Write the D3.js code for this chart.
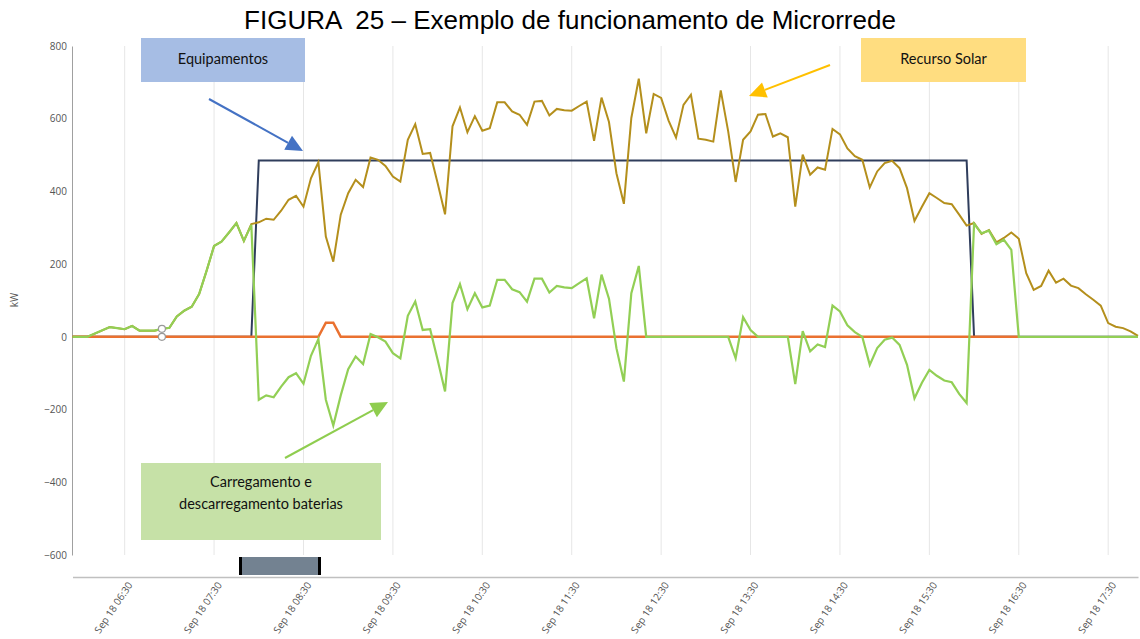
<!DOCTYPE html>
<html><head><meta charset="utf-8">
<script src="https://cdn.jsdelivr.net/npm/d3@7"></script>
<style>body{margin:0;background:#fff;} svg{display:block;}</style>
</head><body>
<svg id="chart" width="1140" height="639"></svg>
<script>
const title = "FIGURA  25 – Exemplo de funcionamento de Microrrede";
const yAxisTitle = "kW";
const startTime = "2019-09-18T05:55:00";
const stepMinutes = 5;

// Recurso Solar (kW)
const solar = [0,0,0,9,18,27,24,21,30,17,17,17,22,25,56,72,83,118,182,250,262,287,313,264,310,
  315,325,322,347,377,388,358,436,480,276,207,336,395,432,412,493,487,470,441,427,542,585,503,506,423,337,579,631,563,607,
  567,574,645,645,620,611,583,647,649,609,627,623,622,635,647,539,658,591,450,366,602,710,560,668,657,595,
  548,638,666,545,542,537,678,565,426,542,565,611,613,551,560,549,358,501,446,466,460,572,557,518,497,487,411,
  455,478,484,464,409,319,358,395,382,368,365,336,306,313,283,294,260,272,287,270,175,129,140,182,149,160,141,134,117,102,86,38,28,24,15,3];

// Carregamento e descarregamento baterias (kW)
const battery = [0,0,0,9,18,27,24,21,30,17,17,17,22,25,56,72,83,118,182,250,262,287,313,264,308,
  -173,-161,-166,-137,-111,-100,-129,-52,-6,-173,-244,-161,-89,-54,-75,8,-1,-13,-45,-59,58,97,19,21,-63,-150,93,145,76,120,
  81,86,157,157,131,123,97,160,160,122,140,136,134,148,161,51,171,105,-31,-123,120,195,0,0,0,0,
  0,0,0,0,0,0,0,0,-59,54,19,0,0,0,0,0,-130,16,-40,-21,-28,86,70,32,13,0,-77,
  -31,-8,-2,-22,-77,-169,-126,-91,-107,-120,-125,-157,-182,311,285,292,255,267,239,0,0,0,0,0,0,0,0,0,0,0,0,0,0,0,0,0];

// Equipamentos (kW)
const equipment = [0,0,0,0,0,0,0,0,0,0,0,0,0,0,0,0,0,0,0,0,0,0,0,0,0,
  485,485,485,485,485,485,485,485,485,485,485,485,485,485,485,485,485,485,485,485,485,485,485,485,485,485,485,485,485,485,
  485,485,485,485,485,485,485,485,485,485,485,485,485,485,485,485,485,485,485,485,485,485,485,485,485,485,
  485,485,485,485,485,485,485,485,485,485,485,485,485,485,485,485,485,485,485,485,485,485,485,485,485,485,485,
  485,485,485,485,485,485,485,485,485,485,485,485,485,0,0,0,0,0,0,0,0,0,0,0,0,0,0,0,0,0,0,0,0,0,0,0];

// Rede (kW)
const grid = [0,0,0,0,0,0,0,0,0,0,0,0,0,0,0,0,0,0,0,0,0,0,0,0,0,
  0,0,0,0,0,0,0,0,0,39,39,0,0,0,0,0,0,0,0,0,0,0,0,0,0,0,0,0,0,0,
  0,0,0,0,0,0,0,0,0,0,0,0,0,0,0,0,0,0,0,0,0,0,0,0,0,0,
  0,0,0,0,0,0,0,0,0,0,0,0,0,0,0,0,0,0,0,0,0,0,0,0,0,0,0,
  0,0,0,0,0,0,0,0,0,0,0,0,0,0,0,0,0,0,0,0];

const markerIndex = 12;
const yTicks = [-600,-400,-200,0,200,400,600,800];
const xTickTimes = ["06:30","07:30","08:30","09:30","10:30","11:30","12:30","13:30","14:30","15:30","16:30","17:30"];
const xTickLabels = ["Sep 18 06:30","Sep 18 07:30","Sep 18 08:30","Sep 18 09:30","Sep 18 10:30","Sep 18 11:30","Sep 18 12:30","Sep 18 13:30","Sep 18 14:30","Sep 18 15:30","Sep 18 16:30","Sep 18 17:30"];
const boxLabels = {equip: ["Equipamentos"], solar: ["Recurso Solar"], batt: ["Carregamento e", "descarregamento baterias"]};

const svg = d3.select("#chart");
const t0 = new Date(startTime);
const timeAt = i => new Date(t0.getTime() + i * stepMinutes * 60000);
const tEnd = timeAt(solar.length - 1);
const tickDate = s => new Date("2019-09-18T" + s + ":00");

const x = d3.scaleTime().domain([t0, tEnd]).range([72.5, 1138]);
const y = d3.scaleLinear().domain([-600, 800]).range([555, 46]);

// title
svg.append("text").attr("x", 570).attr("y", 29).attr("text-anchor", "middle")
  .style("white-space", "pre").attr("xml:space", "preserve")
  .style("font-family", "'Liberation Sans', Arial, sans-serif").style("font-size", "26px").attr("fill", "#000").text(title);

// vertical gridlines
svg.append("g").selectAll("line").data(xTickTimes).join("line")
  .attr("x1", d => x(tickDate(d))).attr("x2", d => x(tickDate(d)))
  .attr("y1", 46).attr("y2", 555).attr("stroke", "#e6e6e6").attr("stroke-width", 1);

// y axis
const yAxis = d3.axisLeft(y).tickValues(yTicks).tickSize(0).tickPadding(5);
const gy = svg.append("g").attr("transform", "translate(72,0)").call(yAxis);
gy.select(".domain").attr("stroke", "#a0a0a0");
gy.selectAll("text").style("font-family", "'Open Sans', sans-serif").style("font-size", "10px").attr("fill", "#555");

svg.append("text").attr("transform", "translate(18,300) rotate(-90)").attr("text-anchor", "middle")
  .style("font-family", "'Open Sans', sans-serif").style("font-size", "10px").attr("fill", "#555").text(yAxisTitle);

// x axis
const xAxis = d3.axisBottom(x).tickValues(xTickTimes.map(tickDate)).tickSize(0)
  .tickFormat((d, i) => xTickLabels[i]);
const gx = svg.append("g").attr("transform", "translate(0,577)").call(xAxis);
gx.select(".domain").attr("stroke", "#c0c0c0").attr("stroke-width", 1.5);
gx.selectAll("text").style("font-family", "'Open Sans', sans-serif").style("font-size", "10px").attr("fill", "#555")
  .attr("text-anchor", "end").attr("dy", "0.35em").attr("y", 0)
  .attr("transform", "translate(5,6) rotate(-56)");

// navigator-like bar
svg.append("rect").attr("x", 240).attr("y", 557).attr("width", 80).attr("height", 18).attr("fill", "#738291");
svg.append("rect").attr("x", 239).attr("y", 557).attr("width", 3).attr("height", 18).attr("fill", "#000");
svg.append("rect").attr("x", 318).attr("y", 557).attr("width", 3).attr("height", 18).attr("fill", "#000");

// lines
const line = d3.line().x((d, i) => x(timeAt(i))).y(d => y(d));
const plot = svg.append("g");
plot.append("path").datum(equipment).attr("d", line).attr("fill", "none").attr("stroke", "#2f3d5c").attr("stroke-width", 2);
plot.append("path").datum(solar).attr("d", line).attr("fill", "none").attr("stroke", "#b48f1c").attr("stroke-width", 2);
plot.append("path").datum(grid).attr("d", line).attr("fill", "none").attr("stroke", "#ea7130").attr("stroke-width", 2.5);
plot.append("path").datum(battery).attr("d", line).attr("fill", "none").attr("stroke", "#92cf55").attr("stroke-width", 2.2);

// hover markers
[battery[markerIndex], grid[markerIndex]].forEach(v => {
  plot.append("circle").attr("cx", x(timeAt(markerIndex))).attr("cy", y(v)).attr("r", 3.5)
    .attr("fill", "#fff").attr("stroke", "#999").attr("stroke-width", 1.2);
});

// annotation boxes
function box(x0, y0, w, h, fill, lines, ys) {
  svg.append("rect").attr("x", x0).attr("y", y0).attr("width", w).attr("height", h).attr("fill", fill);
  lines.forEach((t, i) => {
    svg.append("text").attr("x", x0 + w / 2).attr("y", ys[i]).attr("dy", "0.35em").attr("text-anchor", "middle")
      .style("font-family", "Lato, 'Open Sans', sans-serif").style("font-size", "14.5px").attr("fill", "#111").text(t);
  });
}
box(141, 38, 164, 44, "#a6bde4", boxLabels.equip, [59]);
box(861, 38, 165, 44, "#ffdd80", boxLabels.solar, [59]);
box(141, 463, 240, 77, "#c6e1a7", boxLabels.batt, [482, 504]);

// arrows
function arrow(x1, y1, x2, y2, color) {
  const ang = Math.atan2(y2 - y1, x2 - x1);
  const L = 17, W = 8;
  const bx = x2 - L * Math.cos(ang), by = y2 - L * Math.sin(ang);
  svg.append("line").attr("x1", x1).attr("y1", y1).attr("x2", bx).attr("y2", by).attr("stroke", color).attr("stroke-width", 2);
  const px = -Math.sin(ang) * W, py = Math.cos(ang) * W;
  svg.append("path").attr("d", `M${x2},${y2}L${bx + px},${by + py}L${bx - px},${by - py}Z`).attr("fill", color);
}
arrow(209, 99, 303, 151, "#4472c4");
arrow(830, 65, 749, 96, "#ffc000");
arrow(285, 458, 388, 402, "#8fcd4f");
</script>
</body></html>
